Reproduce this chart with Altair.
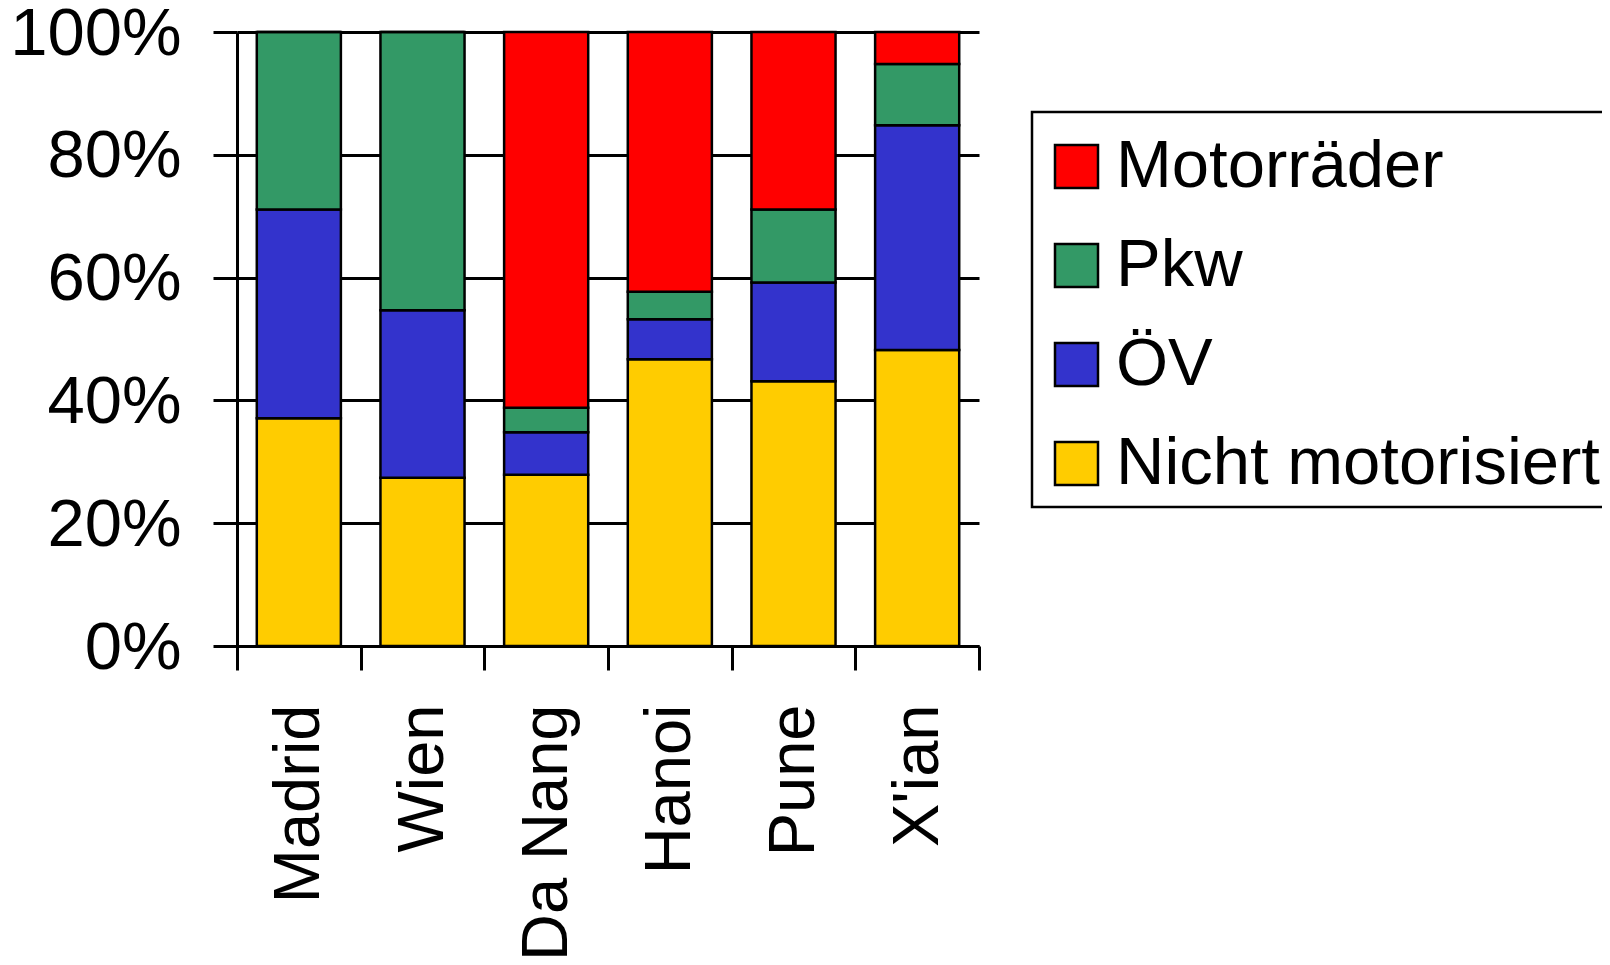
import altair as alt
import pandas as pd

cities = ["Madrid", "Wien", "Da Nang", "Hanoi", "Pune", "X'ian"]
modes = ["Motorräder", "Pkw", "ÖV", "Nicht motorisiert"]
colors = ["#FF0000", "#339966", "#3333CC", "#FFCC00"]

nicht_motorisiert = [37.1, 27.4, 27.9, 46.7, 43.1, 48.2]
oev = [34.0, 27.3, 6.9, 6.5, 16.1, 36.6]
pkw = [28.9, 45.3, 4.0, 4.5, 11.9, 10.0]
motorraeder = [0.0, 0.0, 61.2, 42.3, 28.9, 5.2]

series = {
    "Nicht motorisiert": nicht_motorisiert,
    "ÖV": oev,
    "Pkw": pkw,
    "Motorräder": motorraeder,
}
stack_order = {"Nicht motorisiert": 1, "ÖV": 2, "Pkw": 3, "Motorräder": 4}

rows = []
for mode, vals in series.items():
    for c, v in zip(cities, vals):
        rows.append({"Stadt": c, "Modus": mode, "Wert": v, "Ordnung": stack_order[mode]})
df = pd.DataFrame(rows)

FONT = "Liberation Sans"
LW = 3
FS = 67

chart = alt.Chart(df).mark_bar(
    width=alt.RelativeBandSize(0.68), stroke="black", strokeWidth=2.5
).encode(
    x=alt.X("Stadt:N", sort=cities, title=None,
            scale=alt.Scale(paddingInner=0, paddingOuter=0),
            axis=alt.Axis(tickBand="extent", tickSize=24, tickWidth=LW, tickColor="black",
                          domainColor="black", domainWidth=LW,
                          labelAngle=270, labelAlign="right", labelBaseline="middle",
                          labelPadding=34, labelFontSize=65, labelFont=FONT,
                          labelColor="black", labelLimit=1000, grid=False)),
    y=alt.Y("Wert:Q", stack="normalize", title=None,
            scale=alt.Scale(domain=[0, 1], nice=False),
            axis=alt.Axis(values=[0, 0.2, 0.4, 0.6, 0.8, 1.0], format=".0%",
                          tickSize=24, tickWidth=LW, tickColor="black",
                          domainColor="black", domainWidth=LW,
                          grid=True, gridColor="black", gridWidth=LW, gridOpacity=1,
                          labelPadding=32, labelOffset=2, labelFontSize=FS, labelFont=FONT,
                          labelColor="black", labelLimit=1000)),
    color=alt.Color("Modus:N",
                    scale=alt.Scale(domain=modes, range=colors),
                    legend=alt.Legend(title=" ", titleFontSize=11, titlePadding=0,
                                      titleLineHeight=11,
                                      orient="none", legendX=795, legendY=80,
                                      strokeColor="black", fillColor="white",
                                      padding=10, rowPadding=31, labelOffset=6,
                                      symbolOffset=1,
                                      labelFontSize=FS, labelFont=FONT, labelColor="black",
                                      labelLimit=1000,
                                      symbolType="square", symbolSize=1850,
                                      symbolStrokeColor="black", symbolStrokeWidth=2.5,
                                      symbolOpacity=1)),
    order=alt.Order("Ordnung:Q", sort="ascending"),
).properties(
    width=742, height=614,
    autosize="none",
    padding={"left": 229, "top": 24, "right": 623, "bottom": 311},
).configure_view(strokeWidth=0).configure_legend(strokeWidth=2.5)

chart.save("out.html", embed_options={"renderer": "svg", "actions": False})
